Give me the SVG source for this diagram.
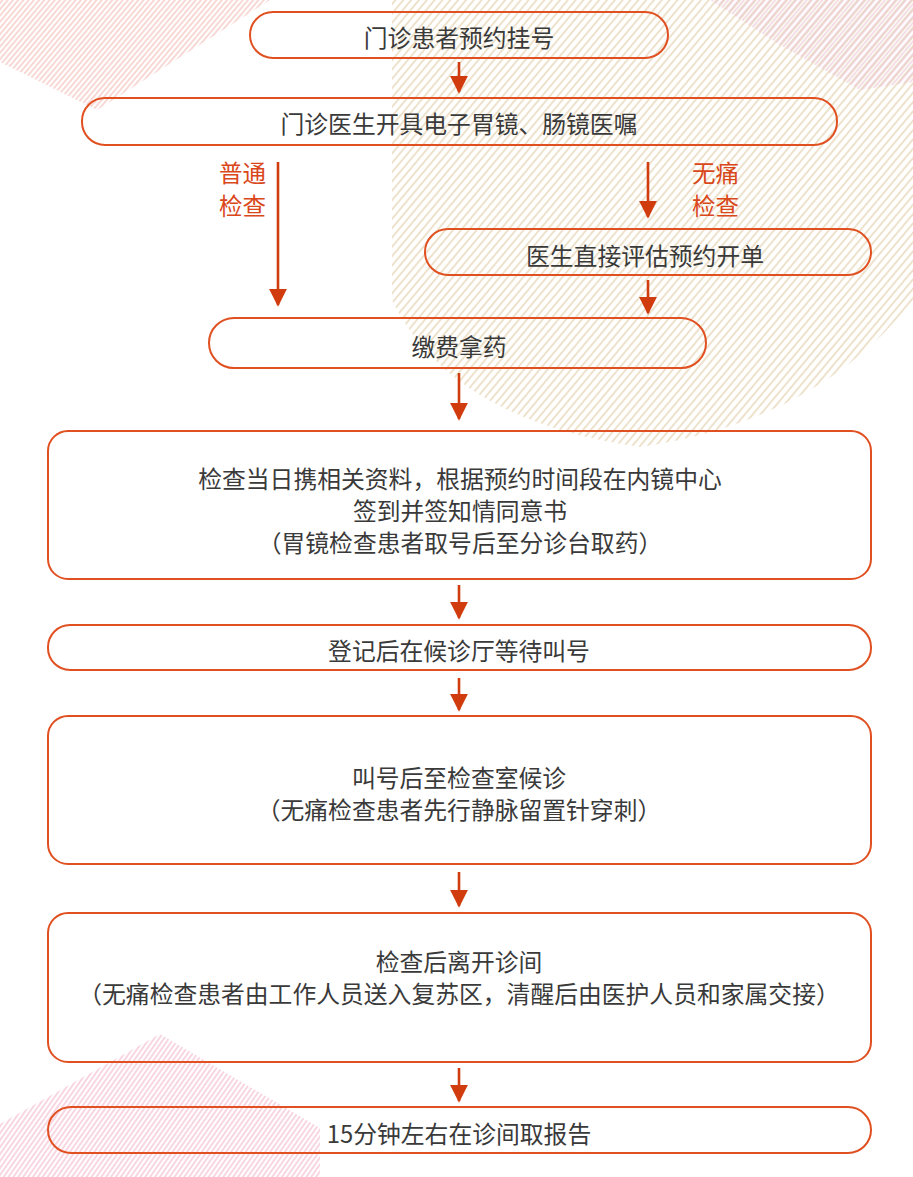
<svg xmlns="http://www.w3.org/2000/svg" width="913" height="1177" viewBox="0 0 913 1177">
<defs>
<pattern id="hBeige" width="6" height="6" patternUnits="userSpaceOnUse" patternTransform="rotate(40)"><line x1="3" y1="0" x2="3" y2="6" stroke="#dfcaa2" stroke-width="1.1"/></pattern>
<pattern id="hPink1" width="4" height="4" patternUnits="userSpaceOnUse" patternTransform="rotate(40)"><line x1="2" y1="0" x2="2" y2="4" stroke="#efb2aa" stroke-width="1"/></pattern>
<pattern id="hPink2" width="4" height="4" patternUnits="userSpaceOnUse" patternTransform="rotate(40)"><line x1="2" y1="0" x2="2" y2="4" stroke="#e9bccf" stroke-width="1"/></pattern>
<pattern id="hPink3" width="4" height="4" patternUnits="userSpaceOnUse" patternTransform="rotate(35)"><line x1="2" y1="0" x2="2" y2="4" stroke="#f0adc6" stroke-width="1"/></pattern>
<marker id="ah" viewBox="0 0 10 10" refX="9" refY="5" markerWidth="7" markerHeight="7.5" markerUnits="strokeWidth" orient="auto"><path d="M0,0 L10,5 L0,10 Z" fill="#d13c0e"/></marker>
</defs>
<style>
.box{fill:none;stroke:#e05020;stroke-width:2}
.t{font-family:"Noto Sans CJK SC","Noto Sans",sans-serif;font-size:23.8px;fill:#3a3a3a;text-anchor:middle;dominant-baseline:central}
.lbl{font-family:"Noto Sans CJK SC","Noto Sans",sans-serif;font-size:23.5px;fill:#d9471a;dominant-baseline:central}
.arr{stroke:#d13c0e;stroke-width:2.6;fill:none;marker-end:url(#ah)}
</style>
<g id="background">
<path d="M392,0 L392,300 Q450,420 640,447 Q820,420 913,300 L913,0 Z" fill="url(#hBeige)"/>
<path d="M0,0 L270,0 L97,110 L0,62 Z" fill="url(#hPink1)"/>
<path d="M710,0 L913,0 L913,82 L860,90 L780,45 Z" fill="url(#hPink2)"/>
<path d="M160,1034 L320,1128 L320,1177 L0,1177 L0,1124 Z" fill="url(#hPink3)"/>
</g>
<g id="connectors">
<line class="arr" x1="459" y1="62" x2="459" y2="92"/>
<line class="arr" x1="278" y1="162" x2="278" y2="305"/>
<line class="arr" x1="648" y1="162" x2="648" y2="217"/>
<line class="arr" x1="648" y1="280" x2="648" y2="313"/>
<line class="arr" x1="459" y1="373" x2="459" y2="419"/>
<line class="arr" x1="459" y1="585" x2="459" y2="618"/>
<line class="arr" x1="459" y1="678" x2="459" y2="710"/>
<line class="arr" x1="459" y1="872" x2="459" y2="906"/>
<line class="arr" x1="459" y1="1068" x2="459" y2="1101"/>
<text class="lbl" x="219" y="172">普通</text>
<text class="lbl" x="219" y="205">检查</text>
<text class="lbl" x="692" y="172">无痛</text>
<text class="lbl" x="692" y="205">检查</text>
</g>
<g id="n1"><rect class="box" x="250" y="12" width="418" height="46" rx="23"/><text class="t" x="459" y="36">门诊患者预约挂号</text></g>
<g id="n2"><rect class="box" x="82" y="98" width="755" height="47" rx="23"/><text class="t" x="459" y="122">门诊医生开具电子胃镜、肠镜医嘱</text></g>
<g id="n3"><rect class="box" x="425" y="229" width="446" height="46" rx="23"/><text class="t" x="645" y="254">医生直接评估预约开单</text></g>
<g id="n4"><rect class="box" x="209" y="318" width="497" height="50" rx="25"/><text class="t" x="459" y="345">缴费拿药</text></g>
<g id="n5"><rect class="box" x="48" y="431" width="823" height="148" rx="20"/>
<text class="t" x="460" y="477">检查当日携相关资料，根据预约时间段在内镜中心</text>
<text class="t" x="460" y="509">签到并签知情同意书</text>
<text class="t" x="460" y="541">（胃镜检查患者取号后至分诊台取药）</text></g>
<g id="n6"><rect class="box" x="48" y="625" width="823" height="45" rx="22"/><text class="t" x="459" y="649">登记后在候诊厅等待叫号</text></g>
<g id="n7"><rect class="box" x="48" y="716" width="823" height="148" rx="20"/>
<text class="t" x="459" y="776">叫号后至检查室候诊</text>
<text class="t" x="459" y="808">（无痛检查患者先行静脉留置针穿刺）</text></g>
<g id="n8"><rect class="box" x="48" y="913" width="823" height="149" rx="20"/>
<text class="t" x="459" y="960">检查后离开诊间</text>
<text class="t" x="459" y="992">（无痛检查患者由工作人员送入复苏区，清醒后由医护人员和家属交接）</text></g>
<g id="n9"><rect class="box" x="48" y="1107" width="823" height="46" rx="23"/><text class="t" x="459" y="1132">15分钟左右在诊间取报告</text></g>
</svg>
